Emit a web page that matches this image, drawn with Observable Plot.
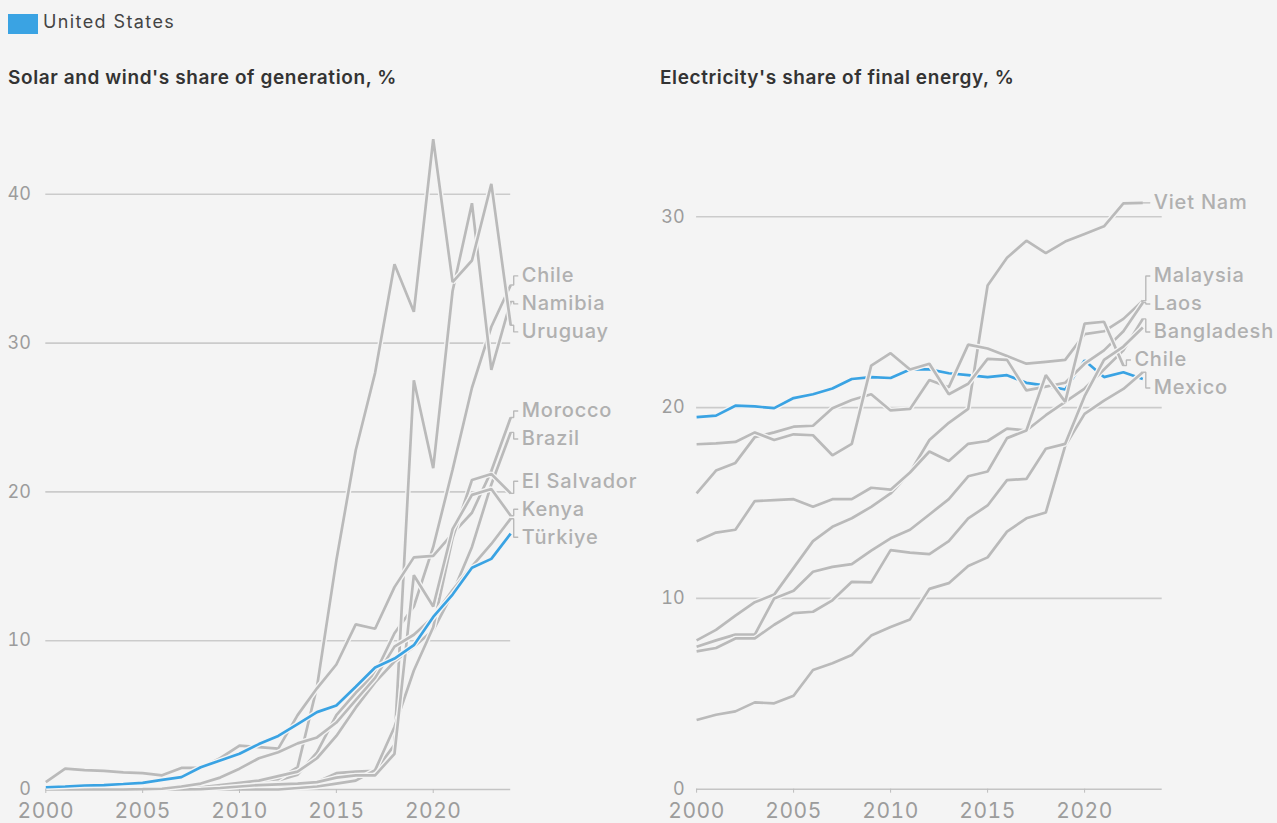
<!DOCTYPE html>
<html><head><meta charset="utf-8">
<script src="https://cdn.jsdelivr.net/npm/d3@7"></script>
<script src="https://cdn.jsdelivr.net/npm/@observablehq/plot@0.6"></script>
<style>
body{margin:0;background:#f4f4f4;font-family:Inter,"Noto Sans",sans-serif;}
#wrap{position:relative;width:1277px;height:823px;overflow:hidden;background:#f4f4f4;}
.sw{position:absolute;left:8px;top:14px;width:30px;height:20px;background:#3aa3e3;}
.legtext{position:absolute;left:43px;top:11px;font-size:18px;letter-spacing:1.4px;color:#444;white-space:nowrap;}
.title{position:absolute;top:66px;font-size:19px;letter-spacing:0.6px;font-weight:600;color:#333;white-space:nowrap;}
#left{position:absolute;left:0;top:100px;}
#right{position:absolute;left:638px;top:100px;}
g[aria-label="x-axis tick label"] text{letter-spacing:0.5px;}
g[aria-label="text"] text{letter-spacing:0.8px;}
</style></head><body>
<div id="wrap">
  <div class="sw"></div><div class="legtext">United States</div>
  <div class="title" style="left:8px">Solar and wind's share of generation, %</div>
  <div class="title" style="left:660px">Electricity's share of final energy, %</div>
  <div id="left"></div>
  <div id="right"></div>
</div>
<script>
// ---------- Left panel: solar and wind's share of generation, % ----------
const yearsGen = [2000,2001,2002,2003,2004,2005,2006,2007,2008,2009,2010,2011,2012,2013,2014,2015,2016,2017,2018,2019,2020,2021,2022,2023,2024];
const genUS         = [0.15,0.2,0.27,0.3,0.37,0.45,0.65,0.83,1.5,1.95,2.4,3.05,3.6,4.4,5.2,5.65,6.9,8.2,8.8,9.7,11.6,13.1,14.9,15.5,17.2];
const genChile      = [0,0,0,0,0,0,0,0.05,0.1,0.2,0.4,0.5,0.6,1.0,2.5,5.0,6.5,7.8,10.5,12.3,16.3,21.5,27.0,31.1,33.9];
const genNamibia    = [0,0,0,0,0,0,0,0,0,0,0.05,0.1,0.2,0.3,0.5,1.1,1.2,1.25,3.0,27.5,21.6,33.5,39.4,28.2,32.8];
const genUruguay    = [0,0,0,0,0,0,0,0.02,0.05,0.3,0.5,0.6,0.7,1.5,6.9,15.4,22.8,28.0,35.3,32.1,43.7,34.1,35.55,40.7,31.2];
const genMorocco    = [0.5,1.4,1.3,1.25,1.15,1.1,0.95,1.45,1.45,2.1,2.95,2.85,2.75,5.0,6.8,8.4,11.1,10.8,13.6,15.6,15.7,17.2,18.6,21.4,25.0];
const genBrazil     = [0,0,0,0,0,0.01,0.05,0.1,0.15,0.3,0.45,0.6,0.9,1.2,2.1,3.6,5.5,7.2,8.6,9.6,10.7,13.2,16.3,20.5,24.0];
const genElSalvador = [0,0,0,0,0,0,0,0,0,0,0,0,0,0.1,0.2,0.4,0.6,1.3,4.2,8.0,10.9,16.9,20.8,21.2,19.9];
const genKenya      = [0,0,0,0,0,0,0,0,0.02,0.1,0.2,0.3,0.35,0.4,0.5,0.8,0.95,0.95,2.4,14.4,12.3,17.5,19.8,20.2,18.4];
const genTurkiye    = [0,0,0,0,0,0.02,0.05,0.2,0.4,0.8,1.4,2.1,2.5,3.1,3.5,4.5,6.0,7.5,9.6,10.4,11.6,13.4,15.0,16.5,18.2];
const genNames = ["Chile","Namibia","Uruguay","Morocco","Brazil","El Salvador","Kenya","Türkiye"];
const genValues = [genChile,genNamibia,genUruguay,genMorocco,genBrazil,genElSalvador,genKenya,genTurkiye];
const genYTicks = [0,10,20,30,40];

// ---------- Right panel: electricity's share of final energy, % ----------
const yearsElec = [2000,2001,2002,2003,2004,2005,2006,2007,2008,2009,2010,2011,2012,2013,2014,2015,2016,2017,2018,2019,2020,2021,2022,2023];
const elecUS         = [19.5,19.58,20.1,20.06,19.97,20.5,20.7,21.0,21.5,21.6,21.55,22.0,22.0,21.8,21.7,21.6,21.7,21.3,21.15,20.95,22.47,21.6,21.85,21.5];
const elecVietNam    = [7.8,8.35,9.1,9.8,10.2,11.6,13.0,13.75,14.2,14.8,15.5,16.6,18.3,19.2,19.93,26.4,27.85,28.75,28.1,28.7,29.1,29.5,30.7,30.73];
const elecMalaysia   = [15.5,16.7,17.1,18.45,18.7,19.0,19.05,19.97,20.4,20.7,19.85,19.93,21.45,21.07,23.3,23.1,22.7,22.3,22.4,22.5,23.85,24.0,24.65,25.6];
const elecLaos       = [18.08,18.13,18.2,18.7,18.3,18.6,18.55,17.5,18.1,22.2,22.85,22.0,22.3,20.7,21.25,22.55,22.5,20.9,21.1,21.3,22.3,23.0,24.0,25.5];
const elecBangladesh = [13.0,13.45,13.6,15.1,15.15,15.2,14.8,15.2,15.2,15.8,15.7,16.6,17.7,17.2,18.1,18.25,18.9,18.8,19.6,20.3,21.0,22.0,23.0,24.65];
const elecChile      = [7.47,7.8,8.1,8.1,10.0,10.4,11.4,11.65,11.8,12.5,13.15,13.6,14.4,15.2,16.4,16.65,18.4,18.8,21.7,20.3,24.4,24.5,22.2];
const elecMexico     = [3.63,3.9,4.08,4.55,4.5,4.9,6.25,6.6,7.03,8.05,8.5,8.9,10.5,10.8,11.7,12.15,13.5,14.2,14.5,18.0,19.67,20.37,20.98,21.85];
const elecOther      = [7.22,7.4,7.9,7.9,8.62,9.23,9.3,9.9,10.87,10.84,12.53,12.4,12.32,13.0,14.2,14.87,16.2,16.26,17.84,18.1,20.6,22.5,23.2,24.2];
const elecNames = ["Viet Nam","Malaysia","Laos","Bangladesh","Chile","Mexico",null];
const elecValues = [elecVietNam,elecMalaysia,elecLaos,elecBangladesh,elecChile,elecMexico,elecOther];
const elecYTicks = [0,10,20,30];

const xTicks = [2000,2005,2010,2015,2020];
const xDomain = [2000,2024];

const BG = "#f4f4f4", GRAY = "#bababa", BLUE = "#3aa3e3";

function dodge(items, gap) {
  items.sort((a,b)=>a.t-b.t);
  const groups = items.map(it=>({items:[it], start:it.t}));
  const fit = g => { g.start = d3.mean(g.items, d=>d.t) - (g.items.length-1)*gap/2; };
  groups.forEach(fit);
  let changed = true;
  while (changed) {
    changed = false;
    for (let i=0;i<groups.length-1;i++) {
      const a = groups[i], b = groups[i+1];
      if (a.start + a.items.length*gap > b.start) {
        a.items = a.items.concat(b.items); fit(a); groups.splice(i+1,1); changed = true; break;
      }
    }
  }
  groups.forEach(g=>g.items.forEach((it,k)=>{ it.p = g.start + k*gap; }));
}

function panel({years, names, values, us, usFirst, yMax, yTicks, width, height, mL, mR, mT, mB, tickPad}) {
  const innerH = height - mT - mB, innerW = width - mL - mR;
  const ppu = innerH / yMax, ppy = innerW / (xDomain[1]-xDomain[0]);
  const toRows = arr => arr.map((v,i)=>({year: years[i], value: v}));
  const marks = [];
  marks.push(Plot.ruleY(yTicks.filter(d=>d>0), {stroke:"#cbcbcb", strokeWidth:1.6}));
  marks.push(Plot.ruleY([0], {stroke:"#c4c4c4", strokeWidth:1.6}));
  const addLine = (arr, color) => {
    const rows = toRows(arr);
    marks.push(Plot.line(rows, {x:"year", y:"value", stroke:BG, strokeWidth:5.4, strokeLinejoin:"miter", strokeLinecap:"butt"}));
    marks.push(Plot.line(rows, {x:"year", y:"value", stroke:color, strokeWidth:2.7, strokeLinejoin:"miter", strokeLinecap:"butt"}));
  };
  if (usFirst) addLine(us, BLUE);
  values.forEach(arr=>addLine(arr, GRAY));
  if (!usFirst) addLine(us, BLUE);
  const items = [];
  names.forEach((n,i)=>{
    if (!n) return;
    const arr = values[i];
    const endYear = years[arr.length-1], endV = arr[arr.length-1];
    items.push({name:n, endYear, endV, t:(yMax-endV)*ppu});
  });
  dodge(items, 28);
  items.forEach(it=>{ it.labV = yMax - it.p/ppu; });
  items.forEach(it=>{
    const a = 3/ppy, b = 7/ppy;
    marks.push(Plot.line([
      {x:it.endYear, y:it.endV},{x:it.endYear+a, y:it.endV},
      {x:it.endYear+a, y:it.labV},{x:it.endYear+b, y:it.labV}
    ], {x:"x", y:"y", stroke:GRAY, strokeWidth:1.4, strokeLinejoin:"miter"}));
  });
  marks.push(Plot.text(items, {x:"endYear", y:"labV", text:"name", dx:11, textAnchor:"start", lineAnchor:"middle", fill:"#b0b0b0", fontSize:20, fontWeight:500}));
  marks.push(Plot.axisX({ticks:xTicks, tickSize:4, tickPadding:10, tickFormat:d=>String(d), label:null, stroke:"#bdbdbd", fontSize:21}));
  marks.push(Plot.axisY({ticks:yTicks, tickSize:0, tickPadding:tickPad, tickFormat:d=>String(d), label:null, fontSize:18}));
  return Plot.plot({
    width, height, marginLeft:mL, marginRight:mR, marginTop:mT, marginBottom:mB,
    x:{domain:xDomain}, y:{domain:[0,yMax]},
    style:{background:"transparent", fontSize:"19px", fontFamily:"Inter, 'Noto Sans', sans-serif", color:"#9c9c9c", overflow:"visible"},
    marks
  });
}

document.getElementById("left").append(panel({
  years: yearsGen, names: genNames, values: genValues, us: genUS, usFirst:false,
  yMax:45, yTicks: genYTicks, width:638, height:723, mL:45.3, mR:127.8, mT:19.4, mB:34, tickPad:15
}));
document.getElementById("right").append(panel({
  years: yearsElec, names: elecNames, values: elecValues, us: elecUS, usFirst:true,
  yMax:35, yTicks: elecYTicks, width:639, height:723, mL:58.1, mR:115.3, mT:20.9, mB:34.3, tickPad:12
}));
</script>
</body></html>
